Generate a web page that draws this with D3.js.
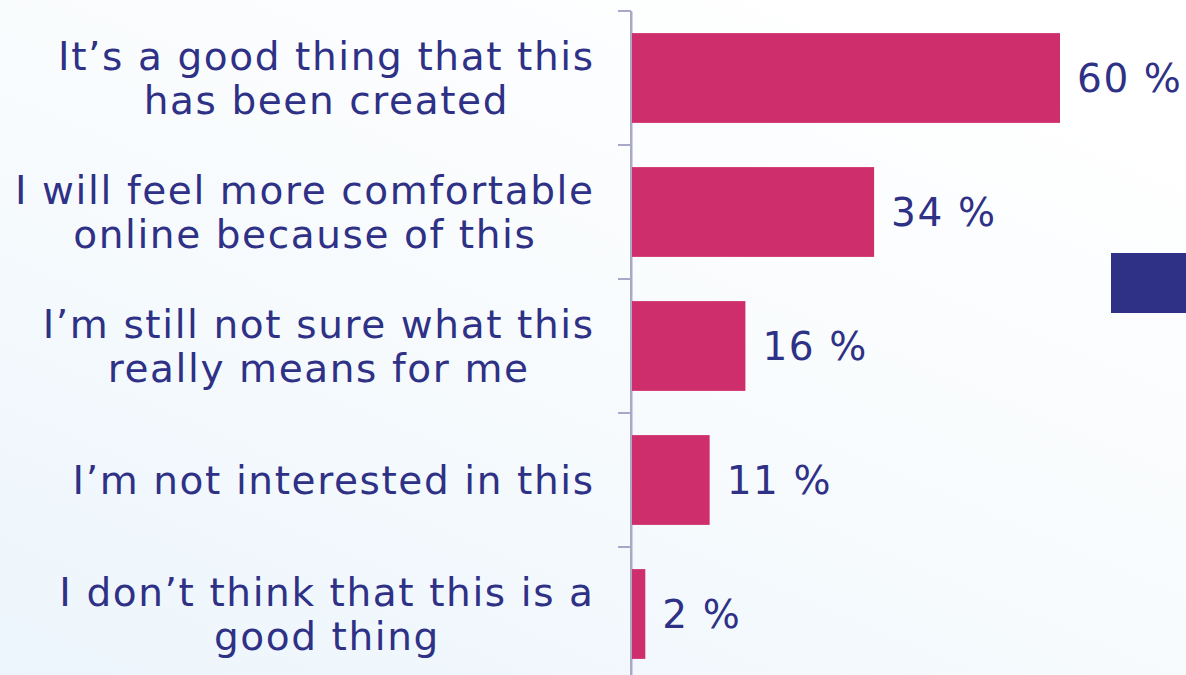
<!DOCTYPE html>
<html>
<head>
<meta charset="utf-8">
<script src="https://cdn.jsdelivr.net/npm/d3@7"></script>
<style>
  html, body { margin: 0; padding: 0; background: #ffffff; }
  svg { display: block; }
</style>
</head>
<body>
<svg id="chart" width="1186" height="675"></svg>
<script>
// Survey answers, one per bar
const categories = [
  "It’s a good thing that this has been created",
  "I will feel more comfortable online because of this",
  "I’m still not sure what this really means for me",
  "I’m not interested in this",
  "I don’t think that this is a good thing"
];
// How each answer is broken into lines
const labelLines = [
  ["It’s a good thing that this", "has been created"],
  ["I will feel more comfortable", "online because of this"],
  ["I’m still not sure what this", "really means for me"],
  ["I’m not interested in this"],
  ["I don’t think that this is a", "good thing"]
];
// Share of respondents, %
const values = [60, 34, 16, 11, 2];
const valueLabels = ["60 %", "34 %", "16 %", "11 %", "2 %"];

const W = 1186, H = 675;
const FONT = "'DejaVu Sans', 'Noto Sans', sans-serif";
const NAVY = "#2e3185";
const PINK = "#cf2e6c";
const AXIS = "#a9a9c7";

const svg = d3.select("#chart");

// Soft bluish wash in the lower-left fading to white
const defs = svg.append("defs");
const grad = defs.append("linearGradient")
  .attr("id", "bg").attr("x1", "0").attr("y1", "1").attr("x2", "0.75").attr("y2", "0");
grad.append("stop").attr("offset", "0").attr("stop-color", "#ecf5fc");
grad.append("stop").attr("offset", "0.55").attr("stop-color", "#f8fbfd");
grad.append("stop").attr("offset", "1").attr("stop-color", "#ffffff");
svg.append("rect").attr("width", W).attr("height", H).attr("fill", "url(#bg)");

const axisX = 631;
const x = d3.scaleLinear().domain([0, 60]).range([axisX, 1060]);
const y = d3.scaleBand().domain(categories).range([11, 681])
  .paddingInner(0.33).paddingOuter(0.165);

// Category axis on the left edge of the bars
const axis = d3.axisLeft(y).tickSize(0).tickFormat("");
const gAxis = svg.append("g").attr("transform", `translate(${axisX},0)`).call(axis);
gAxis.select(".domain").attr("stroke", AXIS).attr("stroke-width", 2);

// Band boundary ticks
const step = y.step();
const bounds = d3.range(categories.length + 1).map(i => 11 + i * step);
svg.append("g").selectAll("line").data(bounds).join("line")
  .attr("x1", axisX - 13).attr("x2", axisX)
  .attr("y1", d => d).attr("y2", d => d)
  .attr("stroke", AXIS).attr("stroke-width", 2);

// Bars
svg.append("g").selectAll("rect").data(categories).join("rect")
  .attr("x", axisX)
  .attr("y", d => y(d))
  .attr("width", (d, i) => x(values[i]) - axisX)
  .attr("height", y.bandwidth())
  .attr("fill", PINK);

// Redraw axis line above bar edges
svg.append("line").attr("x1", axisX).attr("x2", axisX).attr("y1", 11).attr("y2", H)
  .attr("stroke", AXIS).attr("stroke-width", 2);

// Value labels
const fontSize = 39;
const spacing = 1.6;
svg.append("g").selectAll("text").data(categories).join("text")
  .attr("x", (d, i) => x(values[i]) + 17)
  .attr("y", d => y(d) + y.bandwidth() / 2)
  .attr("dy", "0.36em")
  .attr("font-family", FONT)
  .attr("font-size", fontSize)
  .attr("letter-spacing", spacing)
  .attr("fill", NAVY)
  .text((d, i) => valueLabels[i]);

// Category labels: block right-aligned, lines centred within the block
const lineH = 44;
const labelRight = 593 + spacing;
const gLab = svg.append("g");
categories.forEach((c, i) => {
  const lines = labelLines[i];
  const t = gLab.append("text")
    .attr("font-family", FONT)
    .attr("font-size", fontSize)
    .attr("letter-spacing", spacing)
    .attr("fill", NAVY)
    .attr("text-anchor", "middle");
  const cy = y(c) + y.bandwidth() / 2;
  const first = cy - (lines.length - 1) * lineH / 2;
  lines.forEach((ln, j) => {
    t.append("tspan").attr("y", first + j * lineH).attr("dy", "0.36em").text(ln);
  });
  const widths = [];
  t.selectAll("tspan").each(function () { widths.push(this.getComputedTextLength()); });
  const bw = d3.max(widths);
  t.selectAll("tspan").attr("x", labelRight - bw / 2);
});

// Legend swatch at the right edge
svg.append("rect").attr("x", 1111).attr("y", 253).attr("width", 80).attr("height", 60)
  .attr("fill", NAVY);
</script>
</body>
</html>
